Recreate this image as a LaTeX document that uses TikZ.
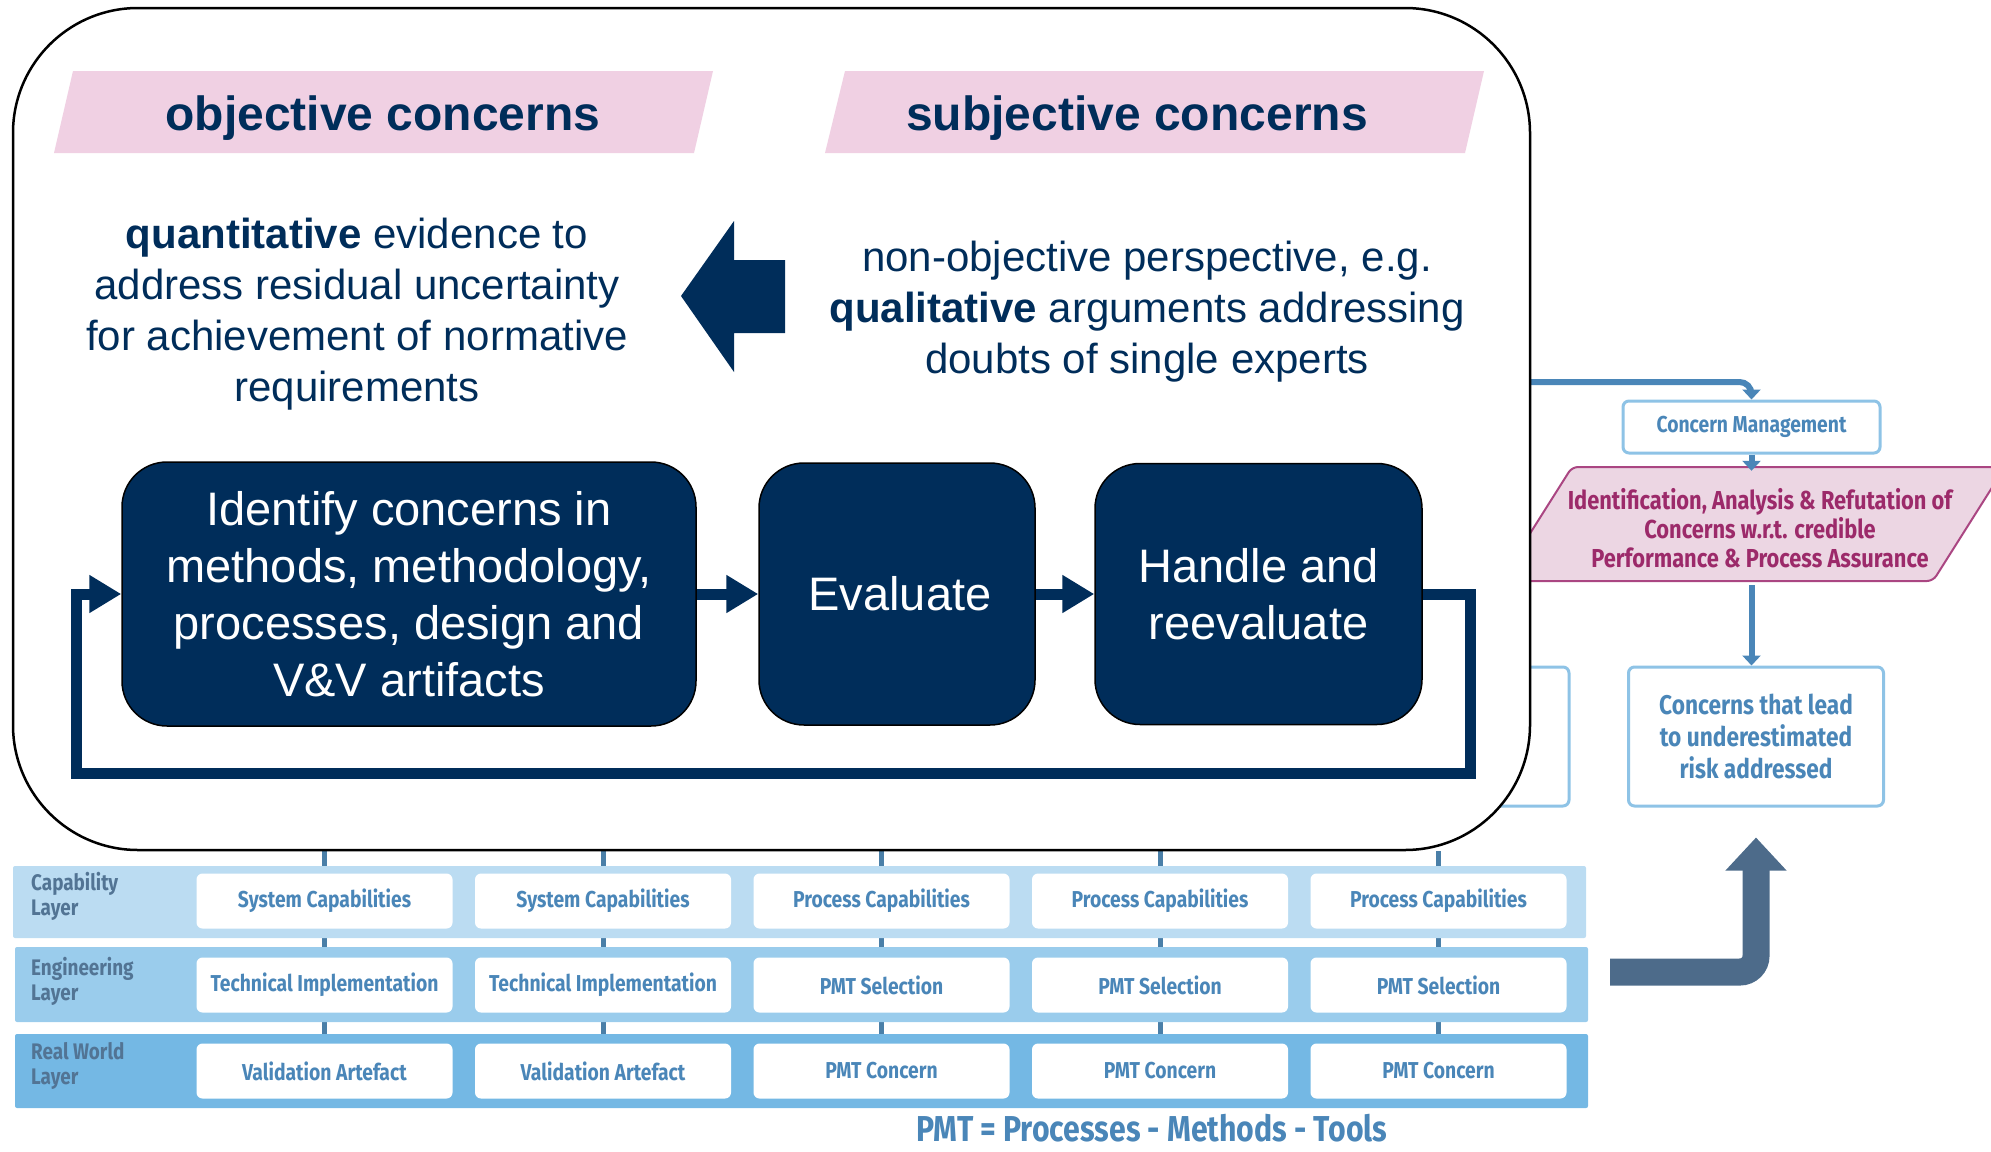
\documentclass[tikz,border=0pt]{standalone}
\usepackage{fontspec}
\setmainfont{Liberation Sans}
\newfontfamily\firac[FakeStretch=0.84]{Fira Sans}
\usetikzlibrary{arrows.meta,positioning}

\definecolor{navy}{RGB}{0,45,90}
\definecolor{bannerpink}{RGB}{240,208,227}
\definecolor{parpink}{RGB}{236,214,227}
\definecolor{magline}{RGB}{170,70,130}
\definecolor{magtext}{RGB}{156,42,106}
\definecolor{steel}{RGB}{74,134,184}
\definecolor{laygray}{RGB}{82,116,148}
\definecolor{capblue}{RGB}{187,220,242}
\definecolor{engblue}{RGB}{154,204,236}
\definecolor{realblue}{RGB}{116,184,228}
\definecolor{boxline}{RGB}{142,195,230}
\definecolor{bigarrow}{RGB}{77,107,138}
\definecolor{pmtline}{RGB}{74,127,168}

\pgfdeclarelayer{back}
\pgfdeclarelayer{bands}
\pgfsetlayers{back,bands,main}

\tikzset{
  frame/.style={draw=black, line width=2.5pt, fill=white, rounded corners=125pt, inner sep=0pt},
  heading/.style={text=navy, font=\bfseries\fontsize{48}{58}\selectfont},
  sidetext/.style={text=navy, align=center, font=\fontsize{42}{51}\selectfont},
  procbox/.style={draw=black, line width=1.5pt, fill=navy, rounded corners=45pt, text=white, align=center, inner sep=0pt, font=\fontsize{47}{57}\selectfont},
  navyarrow/.style={navy, line width=11pt, -{Triangle[length=32pt,width=36pt]}},
  cell/.style={fill=white, rounded corners=6pt, minimum width=256pt, minimum height=55pt, inner sep=0pt, text=steel, font=\firac\bfseries\fontsize{23}{27}\selectfont},
  band/.style={rounded corners=2pt, inner sep=0pt},
  laylabel/.style={anchor=west, align=left, text=laygray, inner sep=0pt, font=\firac\bfseries\fontsize{22.5}{25}\selectfont},
  bluebox/.style={draw=boxline, line width=3pt, fill=white, rounded corners=6pt, text=steel, align=center, inner sep=0pt},
  partext/.style={text=magtext, align=center, minimum height=114pt, inner sep=0pt, font=\firac\bfseries\fontsize{26}{29}\selectfont},
  blueline/.style={steel, line width=6pt, -{Triangle[length=10pt,width=18pt]}},
  layline/.style={pmtline, line width=5pt},
}

\begin{document}
\begin{tikzpicture}[x=1pt,y=-1pt]
\useasboundingbox (0,0) rectangle (1991,1151);

% right hand side, partly behind the frame
\node[bluebox, minimum width=300pt, minimum height=139pt] (hidden) at (1419,736.5) {};
\draw[fill=parpink, draw=magline, line width=2pt, rounded corners=6pt] (1572,467) -- (2005,467) -- (1933,581) -- (1500,581) -- cycle;
\node[partext] (iar) at (1760,528) {Identification, Analysis \& Refutation of\\Concerns w.r.t. credible\\Performance \& Process Assurance};
\node[bluebox, minimum width=257pt, minimum height=52pt, font=\firac\bfseries\fontsize{23}{27}\selectfont] (cm) at (1751.5,427) {Concern Management};
\node[bluebox, minimum width=255pt, minimum height=139pt, font=\firac\bfseries\fontsize{27}{32}\selectfont] (risk) at (1756,736.5) {Concerns that lead\\to underestimated\\risk addressed};
\coordinate (cmin) at (1530,382);
\draw[blueline, rounded corners=12pt] (cmin) -| (cm.north);
\draw[blueline] (cm.south) -- (cm.south |- iar.north);
\draw[blueline] (cm.south |- iar.south) -- (cm.south |- risk.north);

% big arrow up to the risk box
\coordinate (upstart) at (1610,972);
\draw[bigarrow, line width=27pt, rounded corners=16pt, shorten >=30pt, -{Triangle[length=33pt,width=59pt]}] (upstart) -| (risk.south);

% frame
\node[frame, minimum width=1517pt, minimum height=842pt] (frame) at (771.5,429) {};

\fill[bannerpink] (73,71) -- (713,71) -- (694,153) -- (54,153) -- cycle;
\fill[bannerpink] (845,71) -- (1484,71) -- (1465,153) -- (825,153) -- cycle;
\node[heading] (objhead) at (383,118) {objective concerns};
\node[heading] (subhead) at (1137,118) {subjective concerns};

\node[sidetext] (quant) at (357,314) {\textbf{quantitative} evidence to\\address residual uncertainty\\for achievement of normative\\requirements};
\node[sidetext] (qual) at (1147,312) {non-objective perspective, e.g.\\\textbf{qualitative} arguments addressing\\doubts of single experts};
\fill[navy] (681,296) -- (734,221) -- (734,260) -- (785,260) -- (785,333) -- (734,333) -- (734,372) -- cycle;

\node[procbox, minimum width=574pt, minimum height=264pt] (ident) at (409,594) {Identify concerns in\\methods, methodology,\\processes, design and\\V\&V artifacts};
\node[procbox, minimum width=276pt, minimum height=262pt] (eval) at (897,594) {\hspace{6pt}Evaluate};
\node[procbox, minimum width=327pt, minimum height=261pt] (handle) at (1258.5,594) {Handle and\\reevaluate};

\draw[navyarrow] (ident) -- (eval);
\draw[navyarrow] (eval) -- (handle);
\coordinate (loopr) at (1470,773);
\coordinate (loopl) at (76,773);
\draw[navyarrow] (handle.east) -| (loopr) -- (loopl) |- (ident.west);

% layers
\begin{pgfonlayer}{bands}
\node[band, fill=capblue, minimum width=1573pt, minimum height=72pt] (caplayer) at (799.5,902) {};
\node[band, fill=engblue, minimum width=1573pt, minimum height=75pt] (englayer) at (801.5,984.5) {};
\node[band, fill=realblue, minimum width=1573pt, minimum height=74pt] (reallayer) at (801.5,1071) {};
\end{pgfonlayer}
\node[laylabel] (caplab) at (31,896.5) {Capability\\Layer};
\node[laylabel] (englab) at (31,981) {Engineering\\Layer};
\node[laylabel] (reallab) at (31,1066) {Real World\\Layer};

\foreach \i/\capt/\engt/\realt in {1/System Capabilities/Technical Implementation/Validation Artefact,
  2/System Capabilities/Technical Implementation/Validation Artefact,
  3/Process Capabilities/PMT Selection/PMT Concern,
  4/Process Capabilities/PMT Selection/PMT Concern,
  5/Process Capabilities/PMT Selection/PMT Concern}{
  \pgfmathsetmacro{\cx}{324.5+278.5*(\i-1)}
  \node[cell] (cap\i) at (\cx,901) {\capt};
  \node[cell] (eng\i) at (\cx,985) {\engt};
  \node[cell] (real\i) at (\cx,1071) {\realt};
  \begin{pgfonlayer}{back}
  \draw[layline] (cap\i.north |- frame.south) -- (cap\i) -- (eng\i) -- (real\i);
  \end{pgfonlayer}
}

\node[anchor=base, inner sep=0pt, text=steel, font=\firac\bfseries\fontsize{36}{40}\selectfont] (pmt) at (1152,1141) {PMT = Processes - Methods - Tools};
\end{tikzpicture}
\end{document}
